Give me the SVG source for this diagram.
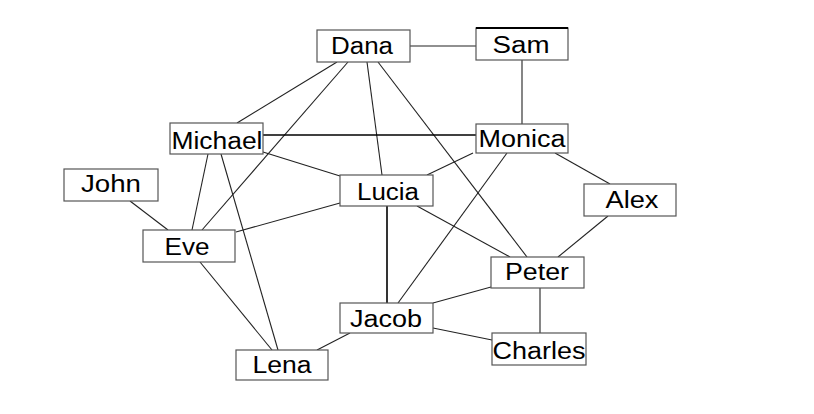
<svg xmlns="http://www.w3.org/2000/svg" width="814" height="414" viewBox="0 0 814 414">
<style>
.bg{fill:#fff}
.edge{stroke:#222;stroke-width:1.1;fill:none}
.dark{stroke:#000;stroke-width:1.6}
.box{fill:#fff;stroke:#555;stroke-width:1.2}
.lbl{font-family:"Liberation Sans",Arial,sans-serif;font-size:23px;fill:#000;text-anchor:middle}
</style>
<rect class="bg" x="0" y="0" width="814" height="414"/>
<g id="connectors">
<line class="edge" x1="410" y1="46" x2="476" y2="46"/>
<line class="edge" x1="522" y1="60" x2="522" y2="124"/>
<line class="edge" x1="337" y1="62" x2="237" y2="123"/>
<line class="edge" x1="348" y1="62" x2="202" y2="230"/>
<line class="edge" x1="367" y1="62" x2="382" y2="175"/>
<line class="edge" x1="378" y1="62" x2="527" y2="257"/>
<line class="edge dark" x1="263" y1="135" x2="476" y2="135"/>
<line class="edge" x1="263" y1="152" x2="340" y2="176"/>
<line class="edge" x1="208" y1="154" x2="192" y2="230"/>
<line class="edge" x1="221" y1="154" x2="278" y2="350"/>
<line class="edge" x1="473" y1="153" x2="427" y2="175"/>
<line class="edge" x1="507" y1="153" x2="398" y2="303"/>
<line class="edge" x1="555" y1="153" x2="610" y2="184"/>
<line class="edge" x1="340" y1="203" x2="236" y2="232"/>
<line class="edge dark" x1="387" y1="206" x2="387" y2="303"/>
<line class="edge" x1="417" y1="206" x2="510" y2="257"/>
<line class="edge" x1="130" y1="201" x2="168" y2="230"/>
<line class="edge" x1="200" y1="262" x2="272" y2="350"/>
<line class="edge" x1="608" y1="216" x2="558" y2="257"/>
<line class="edge" x1="491" y1="287" x2="433" y2="303"/>
<line class="edge" x1="540" y1="288" x2="540" y2="333"/>
<line class="edge" x1="433" y1="328" x2="492" y2="340"/>
<line class="edge" x1="350" y1="333" x2="317" y2="350"/>
</g>
<g id="dana"><rect class="box" x="317" y="30" width="93" height="32"/><text class="lbl" x="362" y="54" textLength="62" lengthAdjust="spacingAndGlyphs">Dana</text></g>
<g id="sam"><rect class="box" x="476" y="28" width="92" height="32"/><line x1="476" y1="28" x2="568" y2="28" stroke="#000" stroke-width="2"/><text class="lbl" x="521" y="53" textLength="57" lengthAdjust="spacingAndGlyphs">Sam</text></g>
<g id="michael"><rect class="box" x="170" y="123" width="93" height="31"/><text class="lbl" x="217" y="149" textLength="91" lengthAdjust="spacingAndGlyphs">Michael</text></g>
<g id="monica"><rect class="box" x="476" y="124" width="92" height="29"/><text class="lbl" x="522" y="147" textLength="87" lengthAdjust="spacingAndGlyphs">Monica</text></g>
<g id="john"><rect class="box" x="64" y="169" width="94" height="32"/><text class="lbl" x="111" y="192" textLength="60" lengthAdjust="spacingAndGlyphs">John</text></g>
<g id="eve"><rect class="box" x="143" y="230" width="92" height="32"/><text class="lbl" x="187" y="255" textLength="45" lengthAdjust="spacingAndGlyphs">Eve</text></g>
<g id="lucia"><rect class="box" x="340" y="175" width="93" height="31"/><text class="lbl" x="388" y="200" textLength="62" lengthAdjust="spacingAndGlyphs">Lucia</text></g>
<g id="alex"><rect class="box" x="584" y="184" width="92" height="32"/><text class="lbl" x="632" y="208" textLength="53" lengthAdjust="spacingAndGlyphs">Alex</text></g>
<g id="peter"><rect class="box" x="491" y="257" width="93" height="31"/><text class="lbl" x="537" y="280" textLength="64" lengthAdjust="spacingAndGlyphs">Peter</text></g>
<g id="jacob"><rect class="box" x="340" y="303" width="93" height="30"/><text class="lbl" x="386" y="327" textLength="72" lengthAdjust="spacingAndGlyphs">Jacob</text></g>
<g id="charles"><rect class="box" x="492" y="333" width="94" height="32"/><text class="lbl" x="539" y="359" textLength="93" lengthAdjust="spacingAndGlyphs">Charles</text></g>
<g id="lena"><rect class="box" x="236" y="350" width="92" height="30"/><text class="lbl" x="282" y="373" textLength="59" lengthAdjust="spacingAndGlyphs">Lena</text></g>
</svg>
